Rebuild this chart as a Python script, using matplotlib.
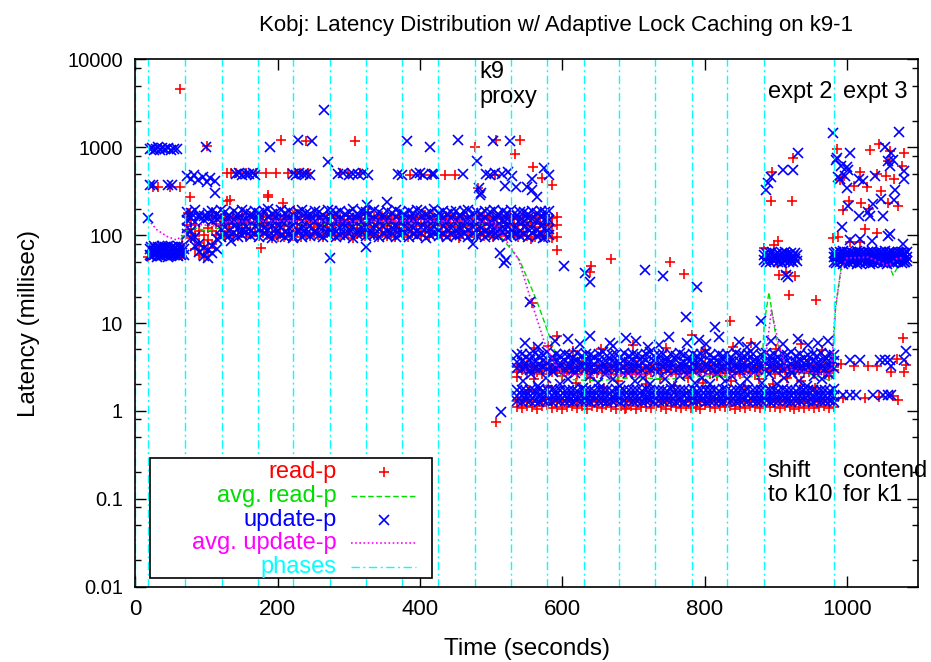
import numpy as np
import matplotlib
matplotlib.use("Agg")
import matplotlib.pyplot as plt
from matplotlib.ticker import LogLocator, NullFormatter, FixedLocator
from matplotlib.lines import Line2D

plt.rcParams['font.family'] = ['Liberation Sans', 'DejaVu Sans']

# ---------------- data ----------------
phases = [0, 18, 70, 122, 172, 222, 273, 324, 374, 425, 478, 528, 579, 630, 680, 731, 782, 832, 883, 982]

# dense bands: (start s, end s) and the latencies sampled across them
upd_b0_span = (20, 68)
upd_b0_hi = [70, 73, 68, 75, 71, 69, 74, 72, 70, 76, 68, 73, 71, 75, 69, 72, 74, 70, 73, 68, 75, 71, 69, 73, 70]
upd_b0_lo = [60, 58, 62, 59, 61, 57, 63, 60, 58, 62, 59, 61, 60, 57, 62, 58, 61, 59, 63, 60, 58, 61, 59, 62, 60]

upd_b1_span = (72, 582)
upd_b1_s1 = [185, 178, 192, 170, 165, 180, 188, 175, 195, 182, 170, 188, 176, 192, 184, 172, 190, 179, 186, 198, 174, 183,
             191, 177, 188, 170, 185, 194, 180, 176, 189, 182, 171, 193, 186, 178, 190, 175, 184, 197, 172, 188, 181, 176,
             192, 185, 170, 187, 179, 195, 183, 174, 189, 177, 191, 186, 172, 184, 196, 179, 188, 175, 182, 190, 171, 186,
             193, 178, 184, 176, 189, 181, 195, 173, 187, 180, 192, 177, 185, 183, 174, 190, 179, 186, 182, 188]
upd_b1_s2 = [150, 158, 142, 160, 148, 155, 145, 152, 162, 146, 154, 149, 157, 143, 151, 159, 147, 153, 145, 161, 150, 156,
             144, 152, 158, 148, 155, 146, 160, 151, 143, 157, 149, 154, 162, 147, 152, 145, 158, 150, 155, 143, 161, 148,
             153, 146, 157, 151, 144, 159, 150, 147, 156, 152, 145, 160, 149, 154, 143, 158, 151, 146, 155, 150, 162, 147,
             153, 144, 157, 149, 156, 145, 152, 160, 148, 154, 146, 158, 150, 143, 155, 151, 147, 159, 152, 149]
upd_b1_s3 = [122, 110, 95, 80, 72, 68, 75, 90, 118, 125, 112, 128, 119, 115, 124, 110, 126, 118, 121, 113, 127, 116, 123,
             109, 120, 126, 114, 122, 117, 128, 111, 124, 119, 115, 125, 112, 121, 127, 116, 123, 110, 119, 125, 113, 122,
             118, 126, 111, 120, 124, 115, 128, 117, 121, 112, 125, 119, 116, 123, 110, 127, 118, 122, 114, 120, 126, 113,
             124, 117, 121, 111, 125, 119, 115, 123, 128, 116, 120, 112, 124, 118, 122, 115, 126, 120, 117]
upd_b1_s4 = [102, 92, 75, 65, 58, 55, 62, 70, 96, 104, 98, 106, 94, 100, 108, 97, 103, 95, 105, 99, 93, 107, 101, 96, 104,
             98, 110, 94, 102, 97, 106, 100, 95, 103, 108, 96, 101, 99, 105, 93, 102, 107, 97, 104, 100, 95, 106, 98, 103,
             94, 101, 108, 96, 102, 99, 105, 93, 100, 107, 97, 103, 95, 104, 98, 101, 106, 94, 102, 99, 105, 96, 103, 100,
             97, 108, 95, 101, 104, 98, 102, 96, 106, 99, 103, 95, 100]

low_span = (537, 982)
upd_u_s1 = [4.3, 4.5, 4.1, 4.4, 4.6, 4.2, 4.3, 4.7, 4.1, 4.4, 4.2, 4.5, 4.3, 4.0, 4.6, 4.2, 4.4, 4.3, 4.1, 4.5, 4.7, 4.2,
            4.3, 4.4, 4.0, 4.6, 4.2, 4.5, 4.3, 4.1, 4.4, 4.7, 4.2, 4.3, 4.5, 4.0, 4.4, 4.2, 4.6, 4.3, 4.1, 4.5, 4.2, 4.4,
            4.7, 4.3, 4.0, 4.5, 4.2, 4.4, 4.1, 4.6, 4.3, 4.2, 4.5, 4.4, 4.0, 4.3, 4.6, 4.2, 4.4, 4.1, 4.5, 4.3, 4.7, 4.2,
            4.4, 4.0, 4.3, 4.5, 4.2, 4.6, 4.1, 4.4, 4.3]
upd_u_s2 = [3.6, 3.7, 3.5, 3.8, 3.6, 3.4, 3.7, 3.5, 3.8, 3.6, 3.5, 3.7, 3.4, 3.6, 3.8, 3.5, 3.7, 3.6, 3.4, 3.8, 3.5, 3.6,
            3.7, 3.5, 3.4, 3.8, 3.6, 3.7, 3.5, 3.6, 3.8, 3.4, 3.7, 3.5, 3.6, 3.7, 3.5, 3.8, 3.4, 3.6, 3.7, 3.5, 3.6, 3.8,
            3.4, 3.7, 3.5, 3.6, 3.8, 3.5, 3.7, 3.4, 3.6, 3.5, 3.8, 3.7, 3.6, 3.4, 3.5, 3.7, 3.8, 3.6, 3.5, 3.7, 3.4, 3.6,
            3.8, 3.5, 3.6, 3.7, 3.5, 3.4, 3.8, 3.6, 3.7]
upd_u_s3 = [3.1, 3.0, 3.2, 2.9, 3.1, 3.0, 3.2, 3.0, 2.9, 3.1, 3.2, 3.0, 3.1, 2.9, 3.0, 3.2, 3.1, 3.0, 2.9, 3.1, 3.2, 3.0,
            3.1, 3.0, 2.9, 3.2, 3.1, 3.0, 3.1, 2.9, 3.2, 3.0, 3.1, 3.0, 3.2, 2.9, 3.1, 3.0, 3.1, 3.2, 3.0, 2.9, 3.1, 3.0,
            3.2, 3.1, 2.9, 3.0, 3.1, 3.2, 3.0, 3.1, 2.9, 3.0, 3.2, 3.1, 3.0, 3.1, 2.9, 3.2, 3.0, 3.1, 3.0, 3.2, 2.9, 3.1,
            3.0, 3.1, 3.2, 3.0, 2.9, 3.1, 3.0, 3.2, 3.1]
upd_l_s1 = [1.72, 1.75, 1.68, 1.74, 1.7, 1.77, 1.69, 1.73, 1.76, 1.7, 1.74, 1.68, 1.75, 1.72, 1.7, 1.78, 1.71, 1.73, 1.69,
            1.76, 1.72, 1.74, 1.7, 1.77, 1.68, 1.73, 1.75, 1.71, 1.74, 1.69, 1.76, 1.72, 1.7, 1.75, 1.73, 1.68, 1.77, 1.71,
            1.74, 1.72, 1.7, 1.76, 1.69, 1.73, 1.75, 1.71, 1.74, 1.68, 1.77, 1.72, 1.7, 1.75, 1.73, 1.69, 1.76, 1.71, 1.74,
            1.72, 1.68, 1.75, 1.73, 1.7, 1.77, 1.72, 1.74, 1.69, 1.76, 1.71, 1.73, 1.75, 1.7, 1.74, 1.72, 1.68, 1.76]
upd_l_s2 = [1.48, 1.5, 1.46, 1.49, 1.52, 1.47, 1.45, 1.51, 1.48, 1.5, 1.46, 1.53, 1.47, 1.49, 1.45, 1.5, 1.48, 1.52, 1.46,
            1.49, 1.51, 1.47, 1.45, 1.5, 1.48, 1.53, 1.46, 1.49, 1.47, 1.51, 1.45, 1.5, 1.48, 1.52, 1.46, 1.49, 1.47, 1.5,
            1.45, 1.51, 1.48, 1.46, 1.53, 1.49, 1.47, 1.5, 1.45, 1.48, 1.52, 1.46, 1.49, 1.51, 1.47, 1.45, 1.5, 1.48, 1.53,
            1.46, 1.49, 1.47, 1.51, 1.45, 1.5, 1.48, 1.52, 1.46, 1.49, 1.47, 1.5, 1.45, 1.51, 1.48, 1.46, 1.5, 1.49]
upd_l_s3 = [1.3, 1.28, 1.32, 1.29, 1.31, 1.27, 1.33, 1.3, 1.28, 1.32, 1.29, 1.31, 1.3, 1.27, 1.33, 1.29, 1.31, 1.28,
            1.32, 1.3, 1.29, 1.27, 1.31, 1.33, 1.28, 1.3, 1.32, 1.29, 1.31, 1.27, 1.3, 1.33, 1.28, 1.31, 1.29, 1.32, 1.3,
            1.28, 1.31, 1.27, 1.33, 1.29, 1.3, 1.32, 1.28, 1.31, 1.29, 1.3, 1.27, 1.33, 1.31, 1.28, 1.3, 1.32, 1.29, 1.31,
            1.28, 1.3, 1.33, 1.27, 1.31, 1.29, 1.32, 1.3, 1.28, 1.31, 1.29, 1.33, 1.3, 1.27, 1.32, 1.29, 1.31, 1.3, 1.28]
upd_mid = [2.2, 2.6, 1.9, 2.4, 2.8, 2.0, 2.3, 2.7, 1.8, 2.5, 2.1, 2.6, 2.3, 1.9, 2.7, 2.2, 2.4, 2.0, 2.8, 2.3, 1.9, 2.5,
           2.6, 2.1, 2.4, 2.0, 2.7, 2.2, 2.5, 1.9, 2.3, 2.8, 2.1, 2.6, 2.0, 2.4, 2.7, 2.2, 1.9, 2.5, 2.3, 2.6]
upd_top_t = [548, 566, 590, 608, 625, 639, 667, 671, 690, 704, 720, 736, 750, 776, 792, 802, 820, 848, 860, 872, 893, 910,
             931, 945, 959, 973]
upd_top_ms = [6.0, 5.4, 6.2, 6.5, 5.8, 7.2, 6.0, 5.5, 6.8, 6.2, 5.3, 5.6, 7.0, 5.9, 6.4, 5.7, 6.9, 6.1, 5.4, 5.5, 6.3,
              5.8, 6.6, 5.6, 6.0, 6.2]

e2_span = (884, 930)
upd_e2_hi = [60, 63, 59, 62, 64, 58, 61, 63, 60, 62, 59, 64, 61, 60, 63, 58, 62, 60]
upd_e2_lo = [52, 50, 54, 49, 53, 51, 55, 50, 52, 48, 54, 51, 53, 49, 52, 50, 53, 51]

e3_span = (982, 1085)
upd_e3_hi = [62, 65, 61, 64, 63, 66, 61, 64, 62, 65, 63, 61, 66, 62, 64, 63, 65, 61, 64, 62, 66, 63, 61, 65, 62, 64, 63,
             66, 61, 64, 62, 65, 63, 61, 64, 62, 65, 63, 61, 64]
upd_e3_mid = [56, 57, 55, 58, 56, 54, 57, 55, 58, 56, 55, 57, 54, 56, 58, 55, 57, 56, 54, 58, 55, 56, 57, 55, 54, 58, 56,
              57, 55, 56, 58, 54, 57, 55, 56, 57, 55, 58, 54, 56]
upd_e3_lo = [50, 48, 52, 49, 51, 47, 50, 53, 48, 51, 49, 52, 47, 50, 48, 51, 53, 49, 50, 47, 52, 48, 51, 49, 50, 53, 48,
             51, 47, 50, 52, 49, 48, 51, 50, 52, 48, 50, 49, 51]

# isolated update-p samples
upd_out_t = [18, 20, 25, 46, 51, 20, 23, 26, 29, 32, 35, 38, 42, 46, 50, 54, 58,
             73, 78, 82, 88, 95, 100, 105, 112, 112, 99,
             141, 146, 150, 155, 160, 165, 168, 189, 228, 248, 265, 270,
             222, 226, 230, 235, 240, 245, 285, 292, 300, 306, 313, 320, 327, 353, 325,
             369, 374, 382, 395, 400, 404, 414, 417, 420, 453, 460, 480, 483, 485, 486,
             493, 498, 503, 505, 515, 520, 524, 526, 530, 535, 550, 557, 557, 564, 575, 582,
             135, 222, 273, 324, 475, 573,
             512, 518, 521, 514, 554, 603, 632, 639, 716, 742, 789, 774, 814, 879,
             887, 889, 894, 910, 924, 932, 915, 917,
             980, 1074, 985, 986, 992, 997, 1004, 1000, 1002, 988, 990, 1000, 1017, 1023, 1039, 1053, 1062, 1065,
             1060, 1058, 1080, 1081, 1068, 1067, 1048, 1037, 1002, 1017, 1032, 1051, 1030, 993, 1060, 1058, 1079,
             1036, 1018, 1004,
             1004, 1018, 1046, 1053, 1060, 1081, 1062, 1083, 995, 1004, 1013, 1037, 1051, 1058, 1062]
upd_out_ms = [158, 370, 370, 370, 370, 950, 980, 930, 960, 1000, 940, 970, 950, 990, 940, 960, 950,
              470, 440, 480, 420, 460, 400, 450, 410, 300, 1010,
              490, 510, 480, 500, 490, 510, 480, 1000, 1200, 1190, 2650, 685,
              500, 480, 510, 490, 500, 480, 490, 510, 480, 500, 490, 510, 480, 240, 218,
              500, 480, 1190, 490, 510, 480, 1000, 500, 490, 1200, 490, 700, 345, 285, 300,
              500, 480, 1190, 510, 490, 360, 520, 1190, 470, 355, 355, 440, 325, 273, 575, 485,
              86, 92, 54.5, 74, 80, 92,
              63, 48, 52, 0.98, 17.5, 44, 37, 29, 40, 34.5, 25.5, 11.8, 9, 10.6,
              325, 390, 460, 550, 550, 850, 35, 33,
              1450, 1500, 710, 760, 610, 470, 850, 600, 550, 460, 440, 340, 440, 415, 470, 1000, 870, 710,
              610, 690, 540, 430, 325, 250, 260, 225, 215, 165, 165, 165, 185, 125, 102, 97, 80,
              86, 90, 88,
              3.8, 3.8, 3.8, 3.8, 3.8, 3.8, 3.25, 4.8, 1.52, 1.52, 1.52, 1.52, 1.52, 1.52, 1.52]

red_b0_t = [17, 24, 36, 50, 66]
red_b0_ms = [57, 59, 58, 60, 58]

red_b1_span = (72, 592)
red_b1_s1 = [160, 150, 130, 110, 100, 120, 155, 165, 158, 168, 152, 162, 156, 170, 150, 164, 158, 153, 166, 160, 155, 168,
             151, 163, 157, 165, 150, 161, 167, 154, 159, 163, 152, 169, 156, 161, 158, 150, 166, 154, 162, 157, 168, 153,
             160, 155, 164, 151, 167, 158, 162, 150, 165, 156, 160, 154, 169, 157, 163, 152, 158, 166, 155, 161, 150, 164,
             159, 156, 168, 153, 162, 157, 160, 151, 165, 155, 163, 158, 152, 167, 160, 154, 161, 156, 164, 150, 158, 162]
red_b1_s2 = [132, 118, 98, 82, 75, 88, 110, 135, 128, 138, 125, 134, 129, 140, 122, 136, 130, 126, 137, 131, 124, 139, 127,
             133, 128, 136, 121, 134, 130, 138, 125, 132, 127, 140, 123, 135, 129, 131, 126, 137, 122, 133, 128, 139, 124,
             134, 130, 127, 136, 121, 135, 129, 132, 125, 138, 128, 133, 123, 137, 130, 126, 134, 128, 139, 124, 132, 131,
             127, 135, 122, 136, 129, 133, 126, 138, 128, 131, 124, 135, 130, 127, 137, 125, 133, 129, 134, 128, 131]
red_b1_s3 = [108, 92, 70, 60, 56, 64, 80, 100, 104, 96, 110, 101, 98, 107, 94, 103, 109, 97, 105, 100, 93, 108, 102, 96,
             106, 99, 111, 95, 104, 98, 107, 101, 94, 105, 109, 97, 103, 100, 106, 92, 102, 108, 98, 104, 101, 95, 107, 99,
             103, 96, 110, 100, 94, 105, 102, 98, 108, 95, 104, 101, 97, 106, 99, 103, 93, 109, 100, 105, 96, 102, 98, 107,
             94, 104, 100, 97, 106, 101, 95, 103, 99, 90, 96, 100, 94, 98, 92, 95]

red_u_s1 = [3.2, 3.1, 3.3, 3.2, 3.0, 3.3, 3.4, 3.1, 3.2, 3.3, 3.0, 3.2, 3.1, 3.4, 3.2, 3.0, 3.3, 3.2, 3.1, 3.2, 3.4, 3.0,
            3.3, 3.1, 3.3, 3.2, 3.0, 3.2, 3.4, 3.1, 3.2, 3.3, 3.0, 3.2, 3.1, 3.2, 3.4, 3.0, 3.3, 3.1, 3.2, 3.3, 3.0, 3.3,
            3.1, 3.2, 3.4, 3.2, 3.0, 3.2, 3.1, 3.3, 3.2, 3.0, 3.2, 3.1, 3.3, 3.2, 3.0, 3.4, 3.1, 3.2, 3.3, 3.1, 3.2]
red_u_s2 = [2.8, 2.9, 2.7, 2.9, 2.8, 2.6, 2.9, 2.8, 2.9, 2.7, 2.9, 2.8, 2.6, 2.9, 2.8, 2.9, 2.7, 2.8, 2.9, 2.6, 2.9, 2.8,
            2.7, 2.9, 2.8, 2.9, 2.6, 2.8, 2.9, 2.7, 2.9, 2.8, 2.6, 2.9, 2.8, 2.7, 2.9, 2.8, 2.9, 2.6, 2.8, 2.9, 2.7, 2.9,
            2.8, 2.6, 2.9, 2.8, 2.7, 2.9, 2.8, 2.9, 2.6, 2.8, 2.9, 2.7, 2.8, 2.9, 2.7, 2.8, 2.6, 2.9, 2.8, 2.7, 2.9]
red_l_s1 = [1.3, 1.27, 1.32, 1.28, 1.25, 1.31, 1.29, 1.26, 1.33, 1.28, 1.3, 1.25, 1.32, 1.27, 1.29, 1.31, 1.26, 1.3,
            1.28, 1.33, 1.25, 1.29, 1.31, 1.27, 1.3, 1.26, 1.32, 1.28, 1.29, 1.25, 1.31, 1.27, 1.33, 1.29, 1.26, 1.3, 1.28,
            1.32, 1.25, 1.29, 1.31, 1.27, 1.3, 1.26, 1.33, 1.28, 1.29, 1.25, 1.31, 1.27, 1.3, 1.32, 1.26, 1.29, 1.28, 1.31,
            1.25, 1.3, 1.27, 1.32, 1.29, 1.26, 1.3, 1.28, 1.31]
red_l_s2 = [1.12, 1.08, 1.15, 1.1, 1.05, 1.13, 1.16, 1.09, 1.12, 1.06, 1.11, 1.15, 1.08, 1.13, 1.04, 1.14, 1.1, 1.07, 1.16,
            1.11, 1.06, 1.13, 1.09, 1.14, 1.05, 1.11, 1.12, 1.08, 1.15, 1.1, 1.04, 1.13, 1.11, 1.07, 1.14, 1.09, 1.12, 1.05,
            1.16, 1.1, 1.08, 1.13, 1.1, 1.14, 1.06, 1.11, 1.09, 1.15, 1.1, 1.07, 1.13, 1.1, 1.12, 1.08, 1.14, 1.1, 1.06,
            1.12, 1.09, 1.15, 1.07, 1.11, 1.13, 1.08, 1.1]
red_mid = [2.3, 1.9, 2.5, 2.1, 2.4, 1.8, 2.2, 2.6, 2.0, 2.3, 1.9, 2.4, 2.1, 2.5, 2.2, 1.9, 2.3, 2.0, 2.4, 2.2, 1.8, 2.5]
red_top_t = [560, 580, 593, 615, 655, 700, 746, 782, 800, 840, 865, 900, 935, 965]
red_top_ms = [5.2, 5.5, 7.1, 4.8, 5.0, 5.6, 5.2, 7.3, 4.9, 5.4, 6.0, 5.1, 5.7, 4.9]

red_e2_t = [885, 890, 896, 902, 908, 914, 920, 927]
red_e2_ms = [55, 52, 58, 50, 56, 53, 57, 51]
red_e3_t = [984, 990, 995, 1001, 1006, 1012, 1018, 1024, 1030, 1036, 1042, 1048, 1054, 1060, 1066, 1072, 1078, 1083]
red_e3_ms = [56, 60, 53, 58, 55, 62, 52, 57, 61, 54, 59, 56, 53, 60, 57, 55, 62, 54]

red_out_t = [25, 32, 48, 62, 62.5, 65, 74, 76.6, 100.5, 77, 107,
             128, 135, 142, 156, 170, 184, 198, 215, 224, 231, 243, 288, 299, 316,
             186, 205, 208, 240, 309, 176, 200, 327, 133, 129, 187, 223,
             386, 402, 416, 435, 449, 505, 507, 540, 478, 534, 559, 571, 586, 482, 592, 669, 640,
             507, 537, 553, 557, 639, 688, 752, 771, 836, 919, 956, 905, 927, 914,
             895, 894, 923, 924, 903, 884, 898,
             986, 1032, 1045, 1060, 1080, 991, 1018, 1042, 1055, 1067, 1078, 1058, 993, 1010, 1028, 1048,
             995, 1003, 1020, 1058, 1072, 1031, 1026, 1042, 987, 980, 1004, 1018,
             992, 1010, 1030, 1042, 1062, 1079, 1080, 1070, 1083, 995, 1025, 1045, 1065, 1072]
red_out_ms = [355, 355, 355, 355, 4600, 79, 178, 273, 1020, 173, 184,
              510, 510, 510, 510, 510, 510, 510, 510, 510, 510, 510, 510, 510, 510,
              273, 1200, 233, 1190, 1190, 72, 95, 184, 250, 243, 285, 192,
              485, 485, 485, 485, 485, 485, 1200, 1200, 1000, 840, 590, 445, 370, 345, 67, 53, 44,
              0.75, 2.45, 1.73, 16.7, 38, 1.04, 50, 36, 10.6, 20.8, 18.3, 35, 34.4, 38,
              518, 245, 243, 745, 86, 72, 77,
              960, 930, 1090, 915, 850, 420, 518, 500, 470, 440, 610, 690, 450, 360, 350, 318,
              192, 243, 233, 233, 215, 198, 117, 105, 94, 92, 83, 84,
              3.4, 3.24, 3.24, 3.24, 2.8, 6.8, 2.75, 3.86, 3.33, 1.41, 1.41, 1.45, 1.48, 1.33]

# running averages
avg_read_t = [18, 40, 58, 64, 72, 85, 100, 115, 130, 200, 300, 400, 500, 512, 540, 564, 589, 600, 650, 700, 750, 800,
              850, 880, 884, 890.5, 901, 910, 920, 950, 978, 984, 992, 1000, 1030, 1058, 1065, 1072, 1080]
avg_read_ms = [60, 62, 64, 90, 115, 120, 112, 118, 132, 135, 133, 136, 132, 100, 52, 18, 4.9, 2.3, 2.2, 2.4, 2.3, 2.5,
               2.4, 2.5, 10, 22.4, 6.4, 3.8, 2.8, 2.6, 2.2, 14, 44, 56, 57, 48, 35, 44, 56]
avg_upd_t = [18, 30, 45, 58, 66, 74, 90, 110, 130, 200, 300, 400, 500, 520, 539, 557, 575, 587, 600, 650, 700, 750, 800,
             850, 883, 894, 905, 915, 950, 978, 984, 992, 1000, 1030, 1059, 1070, 1080]
avg_upd_ms = [150, 115, 96, 88, 100, 128, 132, 128, 142, 145, 143, 146, 142, 90, 52, 17, 6, 3.8, 2.6, 2.5, 2.6, 2.5, 2.6,
              2.5, 2.7, 14, 5.4, 3.0, 2.7, 2.6, 15.4, 40, 55, 56, 45, 54, 56]


def spread(span, vals):
    return np.linspace(span[0], span[1], len(vals))


# ---------------- plot ----------------
fig = plt.figure(figsize=(9.31, 6.62), dpi=100)
ax = fig.add_axes([0.1455, 0.1137, 0.8405, 0.7967])

red_kw = dict(ls='none', marker='+', color='#ff0000', ms=7.5, mew=1.2)
blue_kw = dict(ls='none', marker='x', color='#0000ff', ms=6.5, mew=1.2)

red_sets = [(red_b0_t, red_b0_ms)]
red_sets += [(spread(red_b1_span, v), v) for v in (red_b1_s1, red_b1_s2, red_b1_s3)]
red_sets += [(spread(low_span, v), v) for v in (red_u_s1, red_u_s2, red_l_s1, red_l_s2)]
red_sets += [(spread((560, 975), red_mid), red_mid), (red_top_t, red_top_ms),
             (red_e2_t, red_e2_ms), (red_e3_t, red_e3_ms), (red_out_t, red_out_ms)]
for t, v in red_sets:
    ax.plot(t, v, **red_kw)

ax.plot(avg_read_t, avg_read_ms, color='#00dd00', lw=1.0, dashes=(4, 2))

blue_sets = [(spread(upd_b0_span, v), v) for v in (upd_b0_hi, upd_b0_lo)]
blue_sets += [(spread(upd_b1_span, v), v) for v in (upd_b1_s1, upd_b1_s2, upd_b1_s3, upd_b1_s4)]
blue_sets += [(spread(low_span, v), v) for v in (upd_u_s1, upd_u_s2, upd_u_s3, upd_l_s1, upd_l_s2, upd_l_s3)]
blue_sets += [(spread((545, 975), upd_mid), upd_mid), (upd_top_t, upd_top_ms)]
blue_sets += [(spread(e2_span, v), v) for v in (upd_e2_hi, upd_e2_lo)]
blue_sets += [(spread(e3_span, v), v) for v in (upd_e3_hi, upd_e3_mid, upd_e3_lo)]
blue_sets += [(upd_out_t, upd_out_ms)]
for t, v in blue_sets:
    ax.plot(t, v, **blue_kw)

ax.plot(avg_upd_t, avg_upd_ms, color='#ff00ff', lw=1.2, ls=(0, (1, 1.5)))

for p in phases:
    ax.axvline(p, color='#00ffff', lw=1.0, ls=(0, (6, 2.5, 1.5, 2.5)))

ax.set_yscale('log')
ax.set_xlim(0, 1100)
ax.set_ylim(0.01, 10000)
ax.xaxis.set_major_locator(FixedLocator([0, 200, 400, 600, 800, 1000]))
ax.set_yticks([0.01, 0.1, 1, 10, 100, 1000, 10000])
ax.set_yticklabels(['0.01', '0.1', '1', '10', '100', '1000', '10000'])
ax.yaxis.set_minor_locator(LogLocator(base=10, subs=(2.0, 5.0, 8.0), numticks=20))
ax.yaxis.set_minor_formatter(NullFormatter())
ax.tick_params(which='both', direction='in', top=True, right=True, width=1.0)
ax.tick_params(axis='x', labelsize=16)
ax.tick_params(axis='y', labelsize=14.5)
ax.tick_params(which='major', length=8, pad=9)
ax.tick_params(which='minor', length=4)
for s in ax.spines.values():
    s.set_linewidth(1.2)

ax.set_xlabel('Time (seconds)', fontsize=17.5, labelpad=13)
ax.set_ylabel('Latency (millisec)', fontsize=17.5, labelpad=20)
fig.text(556 / 931, 1 - 25 / 662, 'Kobj: Latency Distribution w/ Adaptive Lock Caching on k9-1',
         fontsize=16, ha='center', va='center')

txt = dict(fontsize=17, va='top', ha='left', linespacing=1.15)
ax.text(484, 9500, 'k9\nproxy', **txt)
ax.text(889, 5600, 'expt 2', **txt)
ax.text(994, 5600, 'expt 3', **txt)
ax.text(889, 0.28, 'shift\nto k10', **txt)
ax.text(994, 0.28, 'contend\nfor k1', **txt)

# legend (gnuplot style: labels right-aligned, samples to the right)
ax.add_patch(plt.Rectangle((0.0185, 0.0165), 0.3605, 0.2275, transform=ax.transAxes,
                           facecolor='white', edgecolor='black', lw=1.2, zorder=5))
entries = [('read-p', '#ff0000', red_kw, None),
           ('avg. read-p', '#00dd00', None, dict(color='#00dd00', lw=1.0, dashes=(4, 2))),
           ('update-p', '#0000ff', blue_kw, None),
           ('avg. update-p', '#ff00ff', None, dict(color='#ff00ff', lw=1.2, ls=(0, (1, 1.5)))),
           ('phases', '#00ffff', None, dict(color='#00ffff', lw=1.0, ls=(0, (6, 2.5, 1.5, 2.5))))]
for i, (lab, col, mk, ln) in enumerate(entries):
    yy = 0.218 - i * 0.0453
    ax.text(0.257, yy, lab, color=col, fontsize=17, ha='right', va='center', transform=ax.transAxes, zorder=6)
    if mk is not None:
        ax.add_line(Line2D([0.318], [yy], transform=ax.transAxes, zorder=6, **mk))
    else:
        ax.add_line(Line2D([0.276, 0.359], [yy, yy], transform=ax.transAxes, zorder=6, **ln))

fig.savefig('out.png', dpi=100)
